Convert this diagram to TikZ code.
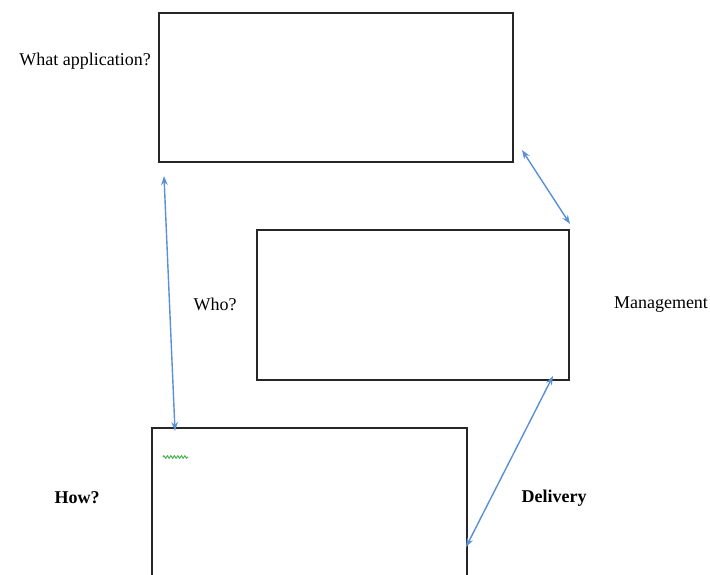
\documentclass[tikz,border=0pt]{standalone}
\usepackage{fontspec}
\setmainfont{Liberation Serif}
\usetikzlibrary{arrows.meta,decorations.pathmorphing}
\definecolor{arrowblue}{HTML}{5B8FD6}
\definecolor{squiggle}{HTML}{3CB043}
\tikzset{
  box/.style={draw=black!85, line width=1.3pt},
  link/.style={draw=arrowblue, line width=1.4pt, {Stealth[length=9pt,width=6.5pt]}-{Stealth[length=9pt,width=6.5pt]}},
  lbl/.style={font=\fontsize{18}{20}\selectfont, inner sep=0pt},
  blbl/.style={font=\fontsize{18}{20}\selectfont\bfseries, inner sep=0pt}
}
\begin{document}
\begin{tikzpicture}[x=1pt,y=-1pt]
\useasboundingbox (0,0) rectangle (710,574);
% boxes
\draw[box] (159,13) rectangle (513,162);
\draw[box] (257,230) rectangle (569,380);
\draw[box] (152,580) -- (152,428) -- (467,428) -- (467,580);
% connector end points
\coordinate (a1) at (164,176);
\coordinate (c1) at (175,431);
\coordinate (a2) at (522,150);
\coordinate (b2) at (570,224);
\coordinate (b3) at (553,376);
\coordinate (c3) at (466,547);
\draw[link] (a1) -- (c1);
\draw[link] (a2) -- (b2);
\draw[link] (b3) -- (c3);
% labels
\node[lbl] (what) at (85,61) {What application?};
\node[lbl] (who) at (215,304) {Who?};
\node[lbl] (mgmt) at (661,305) {Management};
\node[blbl] (how) at (77,498) {How?};
\node[blbl] (del) at (554,498) {Delivery};
% squiggle
\coordinate (s1) at (163,457);
\coordinate (s2) at (188,457);
\draw[squiggle, line width=0.9pt, decorate, decoration={zigzag, segment length=3.5pt, amplitude=1.3pt}] (s1) -- (s2);
\end{tikzpicture}
\end{document}
